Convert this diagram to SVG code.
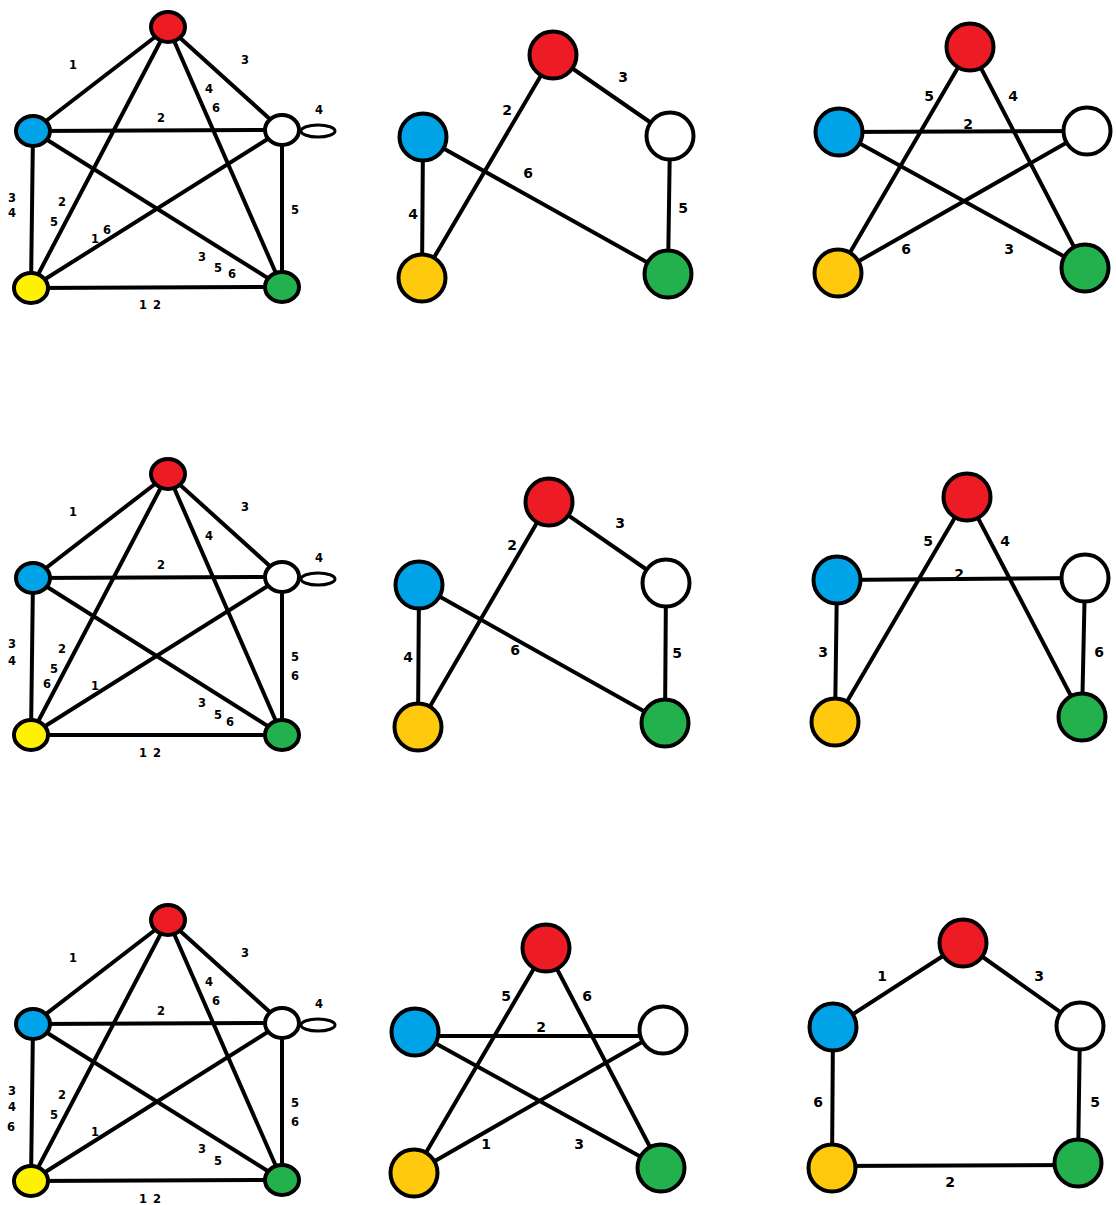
<svg xmlns="http://www.w3.org/2000/svg" width="1116" height="1205" viewBox="0 0 1116 1205">
<style>
.e{stroke:#000;stroke-width:4;fill:none;stroke-linecap:round}
.es{stroke:#000;stroke-width:4;fill:none;stroke-linecap:round}
.n{stroke:#000;stroke-width:4}
.r{fill:#ED1C24}.b{fill:#00A2E8}.w{fill:#FFFFFF}.y{fill:#FFF200}.o{fill:#FFC90E}.g{fill:#22B14C}
.s{font-family:"DejaVu Sans",sans-serif;font-weight:bold;font-size:11.5px;fill:#000;text-anchor:middle}
.t{font-family:"DejaVu Sans",sans-serif;font-weight:bold;font-size:14px;fill:#000;text-anchor:middle}
</style>
<rect width="1116" height="1205" fill="#fff"/>
<g id="connectors">
<!-- graph 1 -->
<g class="es">
<line x1="168" y1="27" x2="33" y2="131"/><line x1="168" y1="27" x2="282" y2="130"/><line x1="168" y1="27" x2="31" y2="288"/><line x1="168" y1="27" x2="282" y2="287"/>
<line x1="33" y1="131" x2="282" y2="130"/><line x1="33" y1="131" x2="31" y2="288"/><line x1="33" y1="131" x2="282" y2="287"/>
<line x1="282" y1="130" x2="31" y2="288"/><line x1="282" y1="130" x2="282" y2="287"/><line x1="31" y1="288" x2="282" y2="287"/>
<ellipse cx="318" cy="131" rx="17" ry="6" stroke-width="3"/>
</g>
<!-- graph 2 -->
<g class="es">
<line x1="168" y1="474" x2="33" y2="578"/><line x1="168" y1="474" x2="282" y2="577"/><line x1="168" y1="474" x2="31" y2="735"/><line x1="168" y1="474" x2="282" y2="735"/>
<line x1="33" y1="578" x2="282" y2="577"/><line x1="33" y1="578" x2="31" y2="735"/><line x1="33" y1="578" x2="282" y2="735"/>
<line x1="282" y1="577" x2="31" y2="735"/><line x1="282" y1="577" x2="282" y2="735"/><line x1="31" y1="735" x2="282" y2="735"/>
<ellipse cx="318" cy="579" rx="17" ry="6" stroke-width="3"/>
</g>
<!-- graph 3 -->
<g class="es">
<line x1="168" y1="920" x2="33" y2="1024"/><line x1="168" y1="920" x2="282" y2="1023"/><line x1="168" y1="920" x2="31" y2="1181"/><line x1="168" y1="920" x2="282" y2="1180"/>
<line x1="33" y1="1024" x2="282" y2="1023"/><line x1="33" y1="1024" x2="31" y2="1181"/><line x1="33" y1="1024" x2="282" y2="1180"/>
<line x1="282" y1="1023" x2="31" y2="1181"/><line x1="282" y1="1023" x2="282" y2="1180"/><line x1="31" y1="1181" x2="282" y2="1180"/>
<ellipse cx="318" cy="1025" rx="17" ry="6" stroke-width="3"/>
</g>
<!-- graph 4 -->
<g class="e">
<line x1="553" y1="55" x2="670" y2="136"/><line x1="670" y1="136" x2="668" y2="274"/><line x1="423" y1="137" x2="668" y2="274"/><line x1="423" y1="137" x2="422" y2="278"/><line x1="553" y1="55" x2="422" y2="278"/>
</g>
<!-- graph 5 -->
<g class="e">
<line x1="970" y1="47" x2="838" y2="273"/><line x1="970" y1="47" x2="1085" y2="268"/><line x1="839" y1="132" x2="1087" y2="131"/><line x1="839" y1="132" x2="1085" y2="268"/><line x1="1087" y1="131" x2="838" y2="273"/>
</g>
<!-- graph 6 -->
<g class="e">
<line x1="549" y1="502" x2="666" y2="583"/><line x1="666" y1="583" x2="665" y2="723"/><line x1="419" y1="585" x2="665" y2="723"/><line x1="419" y1="585" x2="418" y2="727"/><line x1="549" y1="502" x2="418" y2="727"/>
</g>
<!-- graph 7 -->
<g class="e">
<line x1="967" y1="497" x2="835" y2="722"/><line x1="967" y1="497" x2="1082" y2="717"/><line x1="837" y1="580" x2="1085" y2="578"/><line x1="837" y1="580" x2="835" y2="722"/><line x1="1085" y1="578" x2="1082" y2="717"/>
</g>
<!-- graph 8 -->
<g class="e">
<line x1="546" y1="948" x2="414" y2="1173"/><line x1="546" y1="948" x2="661" y2="1168"/><line x1="415" y1="1036" x2="663" y2="1036"/><line x1="415" y1="1032" x2="661" y2="1168"/><line x1="663" y1="1030" x2="414" y2="1173"/>
</g>
<!-- graph 9 -->
<g class="e">
<line x1="963" y1="943" x2="833" y2="1027"/><line x1="963" y1="943" x2="1080" y2="1026"/><line x1="1080" y1="1026" x2="1078" y2="1163"/><line x1="832" y1="1166" x2="1078" y2="1165"/><line x1="833" y1="1027" x2="832" y2="1168"/>
</g>
</g>

<!-- graph 1 nodes -->
<g id="g1-red"><ellipse class="n r" cx="168" cy="27" rx="17" ry="15"/></g>
<g id="g1-blue"><ellipse class="n b" cx="33" cy="131" rx="17" ry="15"/></g>
<g id="g1-white"><ellipse class="n w" cx="282" cy="130" rx="17" ry="15"/></g>
<g id="g1-yellow"><ellipse class="n y" cx="31" cy="288" rx="17" ry="15"/></g>
<g id="g1-green"><ellipse class="n g" cx="282" cy="287" rx="17" ry="15"/></g>
<!-- graph 2 nodes -->
<g id="g2-red"><ellipse class="n r" cx="168" cy="474" rx="17" ry="15"/></g>
<g id="g2-blue"><ellipse class="n b" cx="33" cy="578" rx="17" ry="15"/></g>
<g id="g2-white"><ellipse class="n w" cx="282" cy="577" rx="17" ry="15"/></g>
<g id="g2-yellow"><ellipse class="n y" cx="31" cy="735" rx="17" ry="15"/></g>
<g id="g2-green"><ellipse class="n g" cx="282" cy="735" rx="17" ry="15"/></g>
<!-- graph 3 nodes -->
<g id="g3-red"><ellipse class="n r" cx="168" cy="920" rx="17" ry="15"/></g>
<g id="g3-blue"><ellipse class="n b" cx="33" cy="1024" rx="17" ry="15"/></g>
<g id="g3-white"><ellipse class="n w" cx="282" cy="1023" rx="17" ry="15"/></g>
<g id="g3-yellow"><ellipse class="n y" cx="31" cy="1181" rx="17" ry="15"/></g>
<g id="g3-green"><ellipse class="n g" cx="282" cy="1180" rx="17" ry="15"/></g>
<!-- graph 4 nodes -->
<g id="g4-red"><circle class="n r" cx="553" cy="55" r="23.5"/></g>
<g id="g4-blue"><circle class="n b" cx="423" cy="137" r="23.5"/></g>
<g id="g4-white"><circle class="n w" cx="670" cy="136" r="23.5"/></g>
<g id="g4-yellow"><circle class="n o" cx="422" cy="278" r="23.5"/></g>
<g id="g4-green"><circle class="n g" cx="668" cy="274" r="23.5"/></g>
<!-- graph 5 nodes -->
<g id="g5-red"><circle class="n r" cx="970" cy="47" r="23.5"/></g>
<g id="g5-blue"><circle class="n b" cx="839" cy="132" r="23.5"/></g>
<g id="g5-white"><circle class="n w" cx="1087" cy="131" r="23.5"/></g>
<g id="g5-yellow"><circle class="n o" cx="838" cy="273" r="23.5"/></g>
<g id="g5-green"><circle class="n g" cx="1085" cy="268" r="23.5"/></g>
<!-- graph 6 nodes -->
<g id="g6-red"><circle class="n r" cx="549" cy="502" r="23.5"/></g>
<g id="g6-blue"><circle class="n b" cx="419" cy="585" r="23.5"/></g>
<g id="g6-white"><circle class="n w" cx="666" cy="583" r="23.5"/></g>
<g id="g6-yellow"><circle class="n o" cx="418" cy="727" r="23.5"/></g>
<g id="g6-green"><circle class="n g" cx="665" cy="723" r="23.5"/></g>
<!-- graph 7 nodes -->
<g id="g7-red"><circle class="n r" cx="967" cy="497" r="23.5"/></g>
<g id="g7-blue"><circle class="n b" cx="837" cy="580" r="23.5"/></g>
<g id="g7-white"><circle class="n w" cx="1085" cy="578" r="23.5"/></g>
<g id="g7-yellow"><circle class="n o" cx="835" cy="722" r="23.5"/></g>
<g id="g7-green"><circle class="n g" cx="1082" cy="717" r="23.5"/></g>
<!-- graph 8 nodes -->
<g id="g8-red"><circle class="n r" cx="546" cy="948" r="23.5"/></g>
<g id="g8-blue"><circle class="n b" cx="415" cy="1032" r="23.5"/></g>
<g id="g8-white"><circle class="n w" cx="663" cy="1030" r="23.5"/></g>
<g id="g8-yellow"><circle class="n o" cx="414" cy="1173" r="23.5"/></g>
<g id="g8-green"><circle class="n g" cx="661" cy="1168" r="23.5"/></g>
<!-- graph 9 nodes -->
<g id="g9-red"><circle class="n r" cx="963" cy="943" r="23.5"/></g>
<g id="g9-blue"><circle class="n b" cx="833" cy="1027" r="23.5"/></g>
<g id="g9-white"><circle class="n w" cx="1080" cy="1026" r="23.5"/></g>
<g id="g9-yellow"><circle class="n o" cx="832" cy="1168" r="23.5"/></g>
<g id="g9-green"><circle class="n g" cx="1078" cy="1163" r="23.5"/></g>

<g id="labels">
<g class="s">
<!-- graph 1 -->
<text x="73" y="69">1</text><text x="245" y="64">3</text><text x="209" y="93">4</text><text x="216" y="112">6</text>
<text x="319" y="114">4</text><text x="161" y="122">2</text><text x="12" y="202">3</text><text x="12" y="217">4</text>
<text x="62" y="206">2</text><text x="54" y="226">5</text><text x="95" y="243">1</text><text x="107" y="234">6</text>
<text x="295" y="214">5</text><text x="202" y="261">3</text><text x="218" y="272">5</text><text x="232" y="278">6</text>
<text x="143" y="309">1</text><text x="157" y="309">2</text>
<!-- graph 2 -->
<text x="73" y="516">1</text><text x="245" y="511">3</text><text x="209" y="540">4</text>
<text x="319" y="562">4</text><text x="161" y="569">2</text><text x="12" y="648">3</text><text x="12" y="665">4</text>
<text x="62" y="653">2</text><text x="54" y="673">5</text><text x="47" y="688">6</text><text x="95" y="690">1</text>
<text x="295" y="661">5</text><text x="295" y="680">6</text>
<text x="202" y="707">3</text><text x="218" y="719">5</text><text x="230" y="726">6</text>
<text x="143" y="757">1</text><text x="157" y="757">2</text>
<!-- graph 3 -->
<text x="73" y="962">1</text><text x="245" y="957">3</text><text x="209" y="986">4</text><text x="216" y="1005">6</text>
<text x="319" y="1008">4</text><text x="161" y="1015">2</text><text x="12" y="1095">3</text><text x="12" y="1111">4</text><text x="11" y="1131">6</text>
<text x="62" y="1099">2</text><text x="54" y="1119">5</text><text x="95" y="1136">1</text>
<text x="295" y="1107">5</text><text x="295" y="1126">6</text>
<text x="202" y="1153">3</text><text x="218" y="1165">5</text>
<text x="143" y="1203">1</text><text x="157" y="1203">2</text>
</g>
<g class="t">
<!-- graph 4 -->
<text x="623" y="82">3</text><text x="507" y="115">2</text><text x="528" y="178">6</text><text x="413" y="219">4</text><text x="683" y="213">5</text>
<!-- graph 5 -->
<text x="929" y="101">5</text><text x="1013" y="101">4</text><text x="968" y="129">2</text><text x="906" y="254">6</text><text x="1009" y="254">3</text>
<!-- graph 6 -->
<text x="620" y="528">3</text><text x="512" y="550">2</text><text x="515" y="655">6</text><text x="408" y="662">4</text><text x="677" y="658">5</text>
<!-- graph 7 -->
<text x="928" y="546">5</text><text x="1005" y="546">4</text><text x="959" y="579">2</text><text x="823" y="657">3</text><text x="1099" y="657">6</text>
<!-- graph 8 -->
<text x="506" y="1001">5</text><text x="587" y="1001">6</text><text x="541" y="1032">2</text><text x="486" y="1149">1</text><text x="579" y="1149">3</text>
<!-- graph 9 -->
<text x="882" y="981">1</text><text x="1039" y="981">3</text><text x="818" y="1107">6</text><text x="1095" y="1107">5</text><text x="950" y="1187">2</text>
</g>
</g>
</svg>
